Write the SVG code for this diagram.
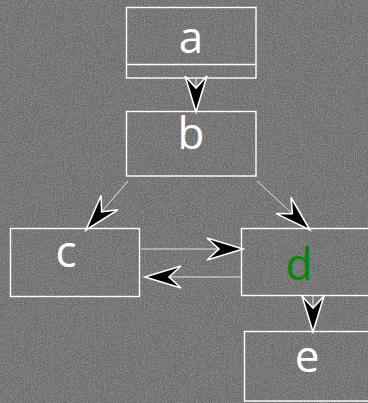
<svg xmlns="http://www.w3.org/2000/svg" width="368" height="403" viewBox="0 0 368 403">
  <defs>
    <filter id="grain" x="0" y="0" width="100%" height="100%">
      <feTurbulence type="fractalNoise" baseFrequency="0.9" numOctaves="2" seed="3" result="n"/>
      <feColorMatrix in="n" type="matrix" values="0 0 0 0 0.42  0 0 0 0 0.42  0 0 0 0 0.42  0.6 0.6 0.6 0 -0.75" result="g"/>
      <feComposite in="g" in2="SourceGraphic" operator="over"/>
    </filter>
    <marker id="head" markerUnits="userSpaceOnUse" markerWidth="44" markerHeight="30" viewBox="-40 -15 44 30" refX="0" refY="0" orient="auto">
      <path d="M0,0 L-36,-11 L-24,0 L-36,11 Z" fill="#000" stroke="#fff" stroke-width="1.6" stroke-linejoin="miter"/>
    </marker>
  </defs>
  <style>
    .box { fill: none; stroke: #fff; stroke-width: 1.4; }
    .lbl { font-family: "Open Sans", "DejaVu Sans", sans-serif; font-size: 44px; fill: #fff; text-anchor: middle; }
    .edge { fill: none; stroke: #e4e4e4; stroke-width: 1; marker-end: url(#head); }
  </style>

  <rect width="368" height="403" fill="#6a6a6a" filter="url(#grain)"/>

  <g id="connectors">
    <line class="edge" x1="196" y1="78" x2="196" y2="112"/>
    <line class="edge" x1="128" y1="181" x2="86" y2="230"/>
    <line class="edge" x1="257" y1="181" x2="310" y2="230"/>
    <line class="edge" x1="141" y1="249" x2="243" y2="249"/>
    <line class="edge" x1="241" y1="277" x2="145" y2="277"/>
    <line class="edge" x1="313" y1="296" x2="313" y2="332"/>
  </g>

  <g id="a">
    <rect class="box" x="126.5" y="7.5" width="129.5" height="70.5"/>
    <line x1="126.5" y1="64.5" x2="256" y2="64.5" stroke="#fff" stroke-width="1.4"/>
    <text class="lbl" x="191" y="53">a</text>
  </g>
  <g id="b">
    <rect class="box" x="126.5" y="111.5" width="129.5" height="64.5"/>
    <text class="lbl" x="191" y="149">b</text>
  </g>
  <g id="c">
    <rect class="box" x="10.5" y="228.5" width="129" height="68"/>
    <text class="lbl" x="66" y="267">c</text>
  </g>
  <g id="d">
    <rect class="box" x="241.5" y="228.5" width="130" height="67"/>
    <text class="lbl" x="299" y="280" style="fill:#008a00">d</text>
  </g>
  <g id="e">
    <rect class="box" x="244.5" y="331.5" width="128" height="69.5"/>
    <text class="lbl" x="307" y="372">e</text>
  </g>
</svg>
